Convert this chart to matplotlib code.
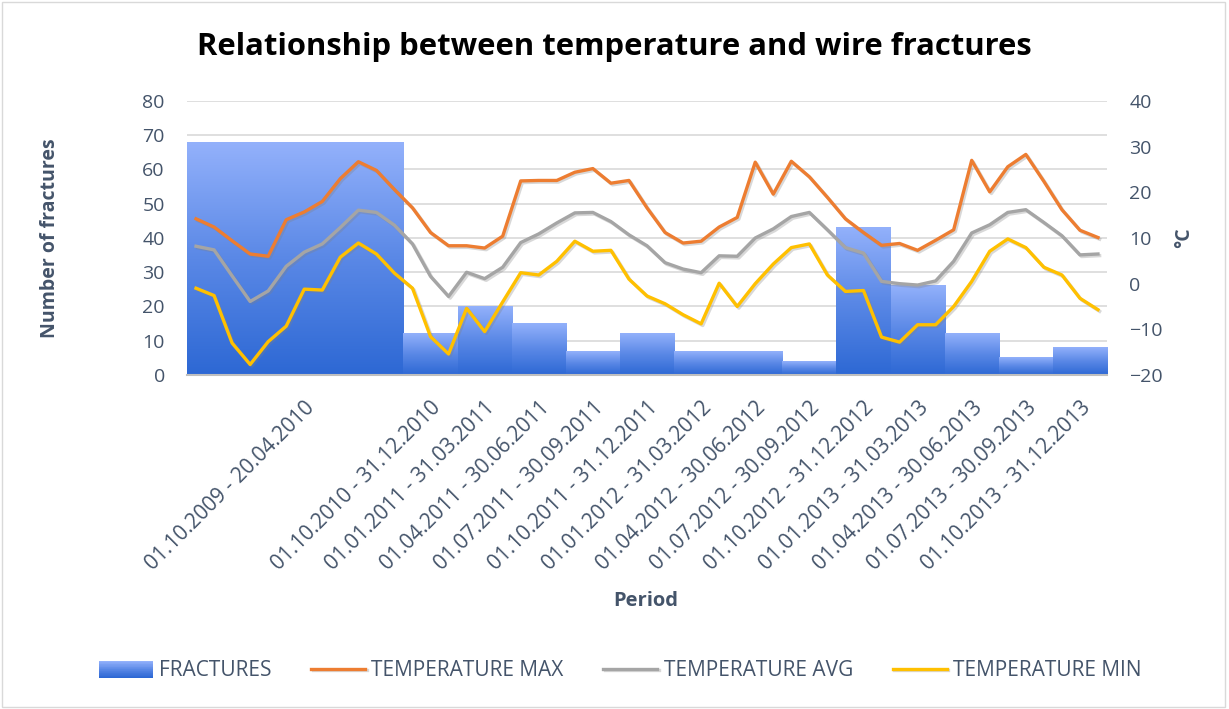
import numpy as np
import matplotlib
matplotlib.use("Agg")
import matplotlib.pyplot as plt
import matplotlib.patheffects as pe
from matplotlib.colors import LinearSegmentedColormap
from matplotlib.patches import Rectangle
from matplotlib.legend_handler import HandlerBase

plt.rcParams['font.family'] = ['Open Sans', 'DejaVu Sans']

# fractures per period (bars span the months of each period)
periods = ['01.10.2009 - 20.04.2010', '01.10.2010 - 31.12.2010', '01.01.2011 - 31.03.2011',
           '01.04.2011 - 30.06.2011', '01.07.2011 - 30.09.2011', '01.10.2011 - 31.12.2011',
           '01.01.2012 - 31.03.2012', '01.04.2012 - 30.06.2012', '01.07.2012 - 30.09.2012',
           '01.10.2012 - 31.12.2012', '01.01.2013 - 31.03.2013', '01.04.2013 - 30.06.2013',
           '01.07.2013 - 30.09.2013', '01.10.2013 - 31.12.2013']
period_months = [12, 3, 3, 3, 3, 3, 3, 3, 3, 3, 3, 3, 3, 3]
fractures = [68, 12, 20, 15, 7, 12, 7, 7, 4, 43, 26, 12, 5, 8]

# monthly temperatures (degC)
temp_max = [14.2, 12.4, 9.4, 6.5, 6.0, 14.0, 15.7, 18.0, 23.0, 26.7, 24.8, 20.6,
            16.6, 11.2, 8.3, 8.3, 7.8, 10.4, 22.5, 22.6, 22.6, 24.4, 25.2, 22.0, 22.6,
            16.6, 11.2, 8.9, 9.3, 12.4, 14.5, 26.6, 19.6, 26.8, 23.4, 18.9, 14.2, 11.2,
            8.4, 8.8, 7.3, 9.5, 11.8, 27.0, 20.1, 25.6, 28.3, 22.4, 16.2, 11.7, 10.1]
temp_avg = [8.2, 7.4, 1.7, -3.9, -1.6, 3.8, 6.9, 8.7, 12.3, 16.1, 15.6, 12.8,
            8.7, 1.6, -2.8, 2.5, 1.1, 3.6, 9.0, 10.9, 13.3, 15.5, 15.6, 13.6, 10.7,
            8.3, 4.6, 3.2, 2.4, 6.1, 6.0, 10.0, 12.0, 14.7, 15.6, 11.8, 7.9, 6.7,
            0.5, 0.0, -0.3, 0.6, 4.9, 11.1, 12.9, 15.6, 16.2, 13.4, 10.5, 6.3, 6.5]
temp_min = [-1.0, -2.6, -13.0, -17.7, -12.7, -9.3, -1.2, -1.4, 5.8, 8.9, 6.5, 2.3,
            -1.0, -11.6, -15.4, -5.4, -10.5, -4.0, 2.4, 1.9, 4.9, 9.3, 7.1, 7.3, 1.0,
            -2.7, -4.4, -6.8, -8.8, 0.1, -5.0, 0.0, 4.3, 7.9, 8.7, 1.9, -1.7, -1.5,
            -11.7, -12.8, -9.0, -9.0, -5.0, 0.5, 7.1, 9.8, 7.9, 3.6, 1.9, -3.2, -5.7]

text_col = '#44546A'
blue_cmap = LinearSegmentedColormap.from_list('bars', ['#2D68D4', '#5A88E6', '#93B1FB'])

months = np.arange(len(temp_max))
starts = np.concatenate([[0], np.cumsum(period_months)[:-1]])
tick_pos = starts + np.array(period_months) // 2

fig = plt.figure(figsize=(12.29, 7.09), dpi=100)
ax = fig.add_axes([187 / 1229, 1 - 375 / 709, 920 / 1229, 274 / 709])
ax2 = ax.twinx()

# gradient bars, one block per period
grad = np.linspace(0, 1, 256).reshape(-1, 1)
for s, n, v in zip(starts, period_months, fractures):
    ax.imshow(grad, extent=(s - 0.5, s + n - 0.5, 0, v), aspect='auto', origin='lower',
              cmap=blue_cmap, interpolation='bicubic', zorder=2)

ax.set_xlim(-0.5, len(months) - 0.5)
ax.set_ylim(0, 80)
ax.set_yticks(range(0, 81, 10))
ax.set_axisbelow(True)
ax.yaxis.grid(True, color='#D9D9D9', lw=1.2)
for sp in ['top', 'left', 'right']:
    ax.spines[sp].set_visible(False)
ax.spines['bottom'].set_color('#BFBFBF')
ax.spines['bottom'].set_linewidth(1.5)
ax.spines['bottom'].set_zorder(3)
ax.tick_params(axis='y', length=0, pad=16, labelsize=14, labelcolor=text_col)
ax.set_xticks(tick_pos)
ax.set_xticklabels(periods, rotation=45, ha='right', va='top', rotation_mode='anchor')
ax.tick_params(axis='x', length=0, pad=16, labelsize=15, labelcolor=text_col)

shadow = [pe.SimpleLineShadow(offset=(1.2, -1.2), shadow_color='#808080', alpha=0.3), pe.Normal()]
l1, = ax2.plot(months, temp_max, color='#ED7D31', lw=2.4, path_effects=shadow, label='TEMPERATURE MAX')
l2, = ax2.plot(months, temp_avg, color='#A5A5A5', lw=2.4, path_effects=shadow, label='TEMPERATURE AVG')
l3, = ax2.plot(months, temp_min, color='#FFC000', lw=2.4, path_effects=shadow, label='TEMPERATURE MIN')
ax2.set_ylim(-20, 40)
ax2.set_yticks(range(-20, 41, 10))
for sp in ax2.spines.values():
    sp.set_visible(False)
ax2.tick_params(axis='y', length=0, pad=16, labelsize=14, labelcolor=text_col)

fig.text(0.5, 1 - 47 / 709, 'Relationship between temperature and wire fractures',
         ha='center', va='center', fontsize=22.3, fontweight='bold', color='black')
fig.text(50 / 1229, 1 - 238 / 709, 'Number of fractures', rotation=90, ha='center', va='center',
         fontsize=14, fontweight='bold', color=text_col)
fig.text(1184 / 1229, 1 - 238 / 709, '°C', rotation=90, ha='center', va='center',
         fontsize=14, fontweight='bold', color=text_col)
fig.text(646 / 1229, 1 - 601 / 709, 'Period', ha='center', va='center',
         fontsize=14.5, fontweight='bold', color=text_col)


class GradientHandler(HandlerBase):
    def create_artists(self, legend, orig_handle, xdescent, ydescent, width, height, fontsize, trans):
        n = 24
        arts = []
        for k in range(n):
            r = Rectangle((-xdescent, -ydescent + k * height / n), width, height / n + 0.3,
                          facecolor=blue_cmap(k / (n - 1)), edgecolor='none', transform=trans)
            arts.append(r)
        return arts


bar_handle = Rectangle((0, 0), 1, 1)
leg = fig.legend([bar_handle, l1, l2, l3], ['FRACTURES', 'TEMPERATURE MAX', 'TEMPERATURE AVG', 'TEMPERATURE MIN'],
                 handler_map={Rectangle: GradientHandler()}, loc='center',
                 bbox_to_anchor=(620 / 1229, 1 - 671 / 709), ncol=4, frameon=False,
                 fontsize=15, handlelength=2.6, handleheight=0.85, handletextpad=0.3, columnspacing=1.9)
for t in leg.get_texts():
    t.set_color(text_col)

fig.add_artist(Rectangle((0.002, 0.003), 0.995, 0.994, transform=fig.transFigure,
                         fill=False, edgecolor='#D9D9D9', lw=1))

fig.savefig('out.png', dpi=100)
